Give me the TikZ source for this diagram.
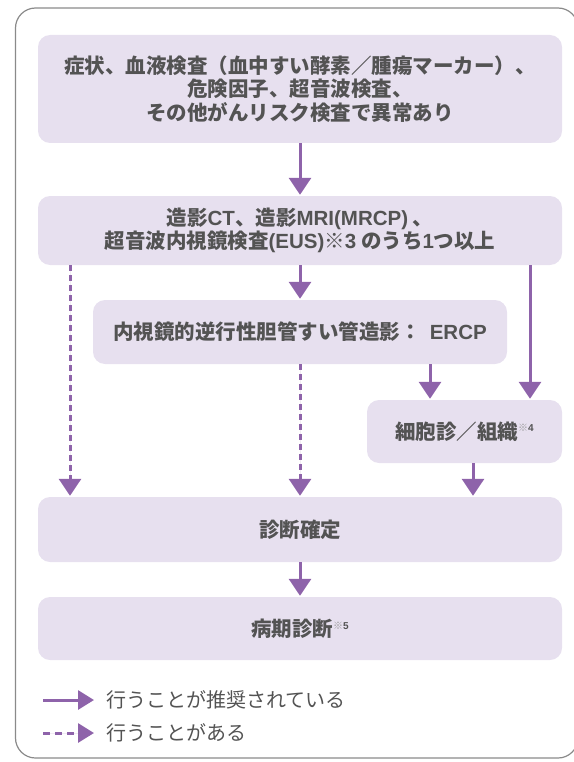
\documentclass[tikz,border=0pt]{standalone}
\usepackage{fontspec}
\setmainfont{Noto Sans CJK JP}
\newfontfamily\latfont{Liberation Sans}
\usetikzlibrary{arrows.meta}
\definecolor{boxfill}{HTML}{E7E0EF}
\definecolor{arr}{HTML}{8E63AA}
\definecolor{txt}{HTML}{535353}
\definecolor{notec}{HTML}{9A9A9A}
\definecolor{frame}{HTML}{8A8A8A}
\newcommand{\lt}[1]{{\latfont\bfseries #1}}
\newcommand{\nt}[1]{\raisebox{0.65ex}{\fontsize{10}{10}\selectfont{\color{notec}※}{\latfont\bfseries #1}}}
\begin{document}
\begin{tikzpicture}[x=1pt,y=-1pt,
  box/.style={fill=boxfill,rounded corners=12pt,draw=none,align=center,
    text=txt,font=\fontsize{20.5}{23.5}\selectfont\bfseries,inner sep=0pt},
  solidarr/.style={draw=arr,line width=3pt,-{Triangle[width=22pt,length=17pt]},fill=arr,shorten >=1pt},
  dasharr/.style={solidarr,dash pattern=on 6pt off 4pt},
  legtext/.style={text=txt,font=\fontsize{20}{23}\selectfont,anchor=west,inner sep=0pt}]
\useasboundingbox (0,0) rectangle (573,762);
\draw[frame,line width=1.2pt,rounded corners=20pt] (15.5,8) rectangle (578,758);

\node[box,minimum width=524pt,minimum height=108pt] (b1) at (300,89)
  {症状、血液検査（血中すい酵素／腫瘍マーカー）、\\危険因子、超音波検査、\\その他がんリスク検査で異常あり};
\node[box,minimum width=524pt,minimum height=69pt] (b2) at (300,230.5)
  {造影\lt{CT}、造影\lt{MRI(MRCP)} 、\\超音波内視鏡検査\lt{(EUS)}※\lt{3} のうち\lt{1}つ以上};
\node[box,minimum width=414pt,minimum height=64pt] (b3) at (300,332)
  {内視鏡的逆行性胆管すい管造影：\hspace{9pt}\lt{ERCP}};
\node[box,minimum width=195pt,minimum height=63pt] (b4) at (464.5,431.5)
  {細胞診／組織\nt{4}};
\node[box,minimum width=524pt,minimum height=65pt] (b5) at (300,529.5)
  {診断確定};
\node[box,minimum width=524pt,minimum height=63pt] (b6) at (300,628.5)
  {病期診断\nt{5}};

\coordinate (xl) at (70,0);
\coordinate (xr) at (530,0);
\coordinate (xe) at (430,0);
\coordinate (xc) at (473,0);

\draw[solidarr] (b1.south) -- (b2.north);
\draw[solidarr] (b2.south) -- (b3.north);
\draw[dasharr] (b2.south -| xl) -- (b5.north -| xl);
\draw[solidarr] (b2.south -| xr) -- (b4.north -| xr);
\draw[dasharr] (b3.south) -- (b5.north);
\draw[solidarr] (b3.south -| xe) -- (b4.north -| xe);
\draw[solidarr] (b4.south -| xc) -- (b5.north -| xc);
\draw[solidarr] (b5.south) -- (b6.north);

\coordinate (l1a) at (43,700);
\coordinate (l1b) at (94,700);
\coordinate (l2a) at (43,733);
\coordinate (l2b) at (94,733);
\draw[draw=arr,line width=3pt,-{Triangle[width=19pt,length=16pt]},fill=arr] (l1a) -- (l1b);
\draw[draw=arr,line width=3pt,dash pattern=on 7pt off 5pt,-{Triangle[width=19pt,length=16pt]},fill=arr] (l2a) -- (l2b);
\node[legtext] (t1) at (106,700) {行うことが推奨されている};
\node[legtext] (t2) at (106,733) {行うことがある};
\end{tikzpicture}
\end{document}
